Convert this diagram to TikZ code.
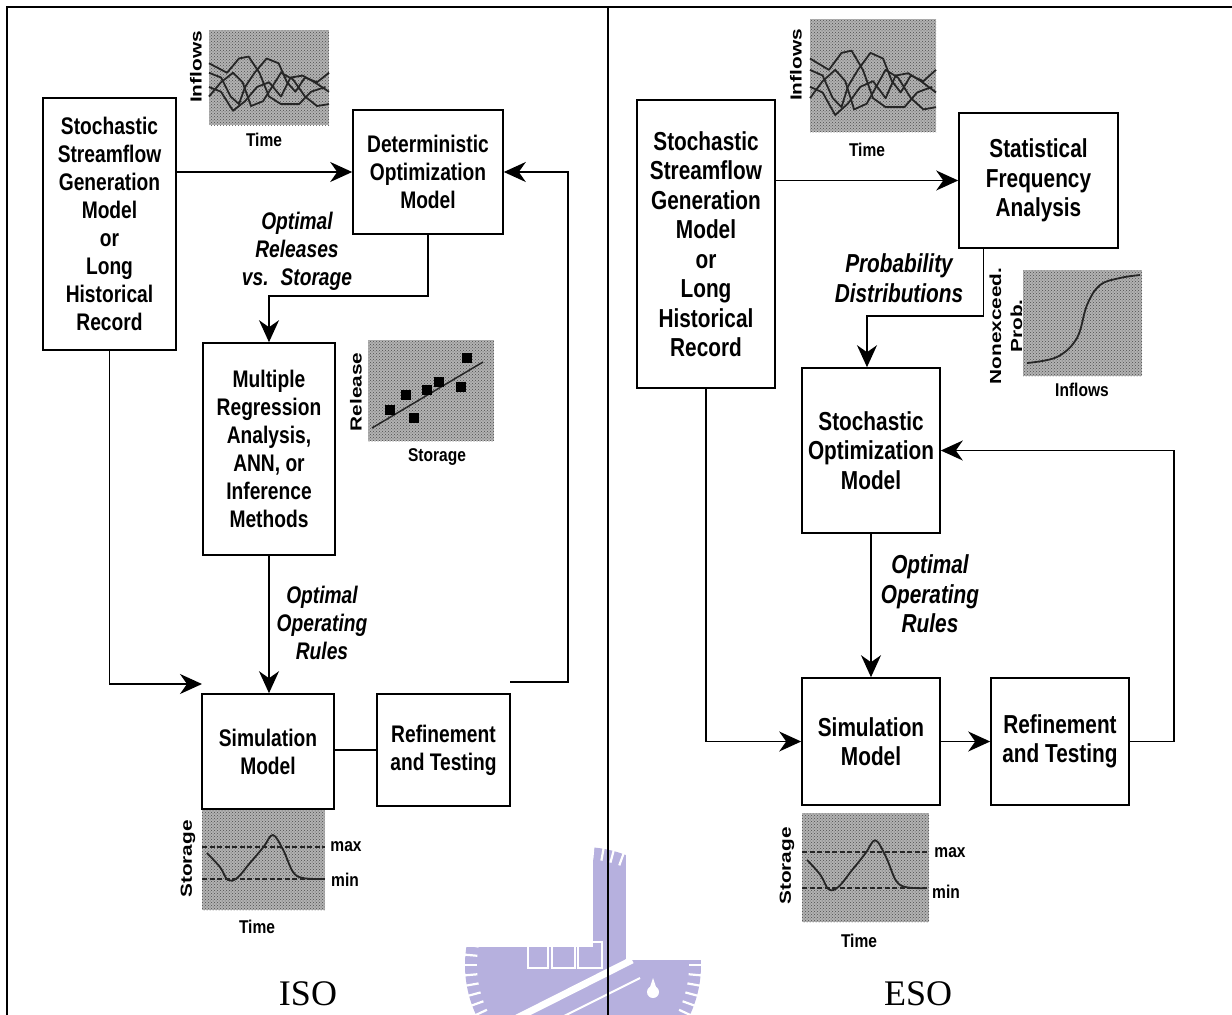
\documentclass[tikz,border=0pt]{standalone}
\usepackage{fontspec}
\setmainfont{Liberation Serif}
\newfontfamily\boxfont{Liberation Sans}[FakeStretch=0.8]
\newfontfamily\tagfont{Liberation Sans}[FakeStretch=0.84]
\newfontfamily\vtagfont{Liberation Sans}[FakeStretch=1.3]
\usetikzlibrary{arrows.meta,calc,patterns}

\definecolor{sealblue}{HTML}{B6B0DE}

\tikzset{
  blk/.style={draw, line width=1.6pt, align=center, inner sep=0pt, fill=white},
  boxL/.style={blk, font=\boxfont\bfseries\fontsize{24}{28}\selectfont},
  boxR/.style={blk, font=\boxfont\bfseries\fontsize{26}{29.5}\selectfont},
  capL/.style={align=center, inner sep=0pt, font=\boxfont\bfseries\itshape\fontsize{24}{28}\selectfont},
  capR/.style={align=center, inner sep=0pt, font=\boxfont\bfseries\itshape\fontsize{26}{29.5}\selectfont},
  tag/.style={inner sep=0pt, font=\tagfont\bfseries\fontsize{18.5}{20}\selectfont},
  vtag/.style={inner sep=0pt, rotate=90, align=center, font=\vtagfont\bfseries\fontsize{16}{21}\selectfont},
  title/.style={anchor=base, inner sep=0pt, font=\fontsize{36}{40}\selectfont},
  wire/.style={line width=1.6pt},
  arr/.style={wire, -{Stealth[length=22pt,width=20pt,inset=7pt]}},
  frame/.style={line width=2.2pt},
  curve/.style={line width=1.8pt, black!85, line join=round},
  lim/.style={line width=1.8pt, black!85, dash pattern=on 5pt off 2.5pt},
}

% stippled grey plotting area
\newcommand{\plotarea}[2]{%
  \fill[black!30] #1 rectangle #2;
  \fill[pattern=crosshatch dots, pattern color=black!70] #1 rectangle #2;
}

\begin{document}
\begin{tikzpicture}[x=1pt,y=-1pt]
\useasboundingbox (0,0) rectangle (1232,1015);

% faint university seal in the background
\begin{scope}
  \fill[sealblue] (583,965) circle[radius=118];
  \foreach \a in {0,5,...,355}
    \draw[white, line width=2.2pt] ($(583,965)+(\a:106pt)$) -- ($(583,965)+(\a:120pt)$);
  \draw[white, line width=7pt] (517,1018) -- (632,960);
  \draw[white, line width=2pt] (560,1018) -- (640,978);
  \draw[white, line width=1.6pt] (528,942) rectangle (548,968);
  \draw[white, line width=1.6pt] (552,942) rectangle (575,968);
  \draw[white, line width=1.6pt] (578,942) rectangle (602,968);
  \fill[white] (653,992) circle[radius=6];
  \fill[white] (653,978) -- (649,990) -- (657,990) -- cycle;
  % areas of the page that sit over the seal
  \fill[white] (7,7) rectangle (593,947);
  \fill[white] (626,7) rectangle (1232,960);
\end{scope}

% table rules
\draw[frame] (7,1015) -- (7,7) -- (1232,7);
\draw[line width=2pt] (608,7) -- (608,1015);

% ================= left panel: ISO =================
\node[boxL, minimum width=133, minimum height=252] (ssgL) at (109.5,224)
  {Stochastic\\Streamflow\\Generation\\Model\\or\\Long\\Historical\\Record};
\node[boxL, minimum width=150, minimum height=124] (detL) at (428,172)
  {Deterministic\\Optimization\\Model};
\node[boxL, minimum width=132, minimum height=212] (mraL) at (269,449)
  {Multiple\\Regression\\Analysis,\\ANN, or\\Inference\\Methods};
\node[boxL, minimum width=132, minimum height=115] (simL) at (268,751.5)
  {Simulation\\Model};
\node[boxL, minimum width=133, minimum height=112] (refL) at (443.5,750)
  {Refinement\\and Testing};

\node[capL] (orsL) at (297,251) {Optimal\\Releases\\vs.\enspace Storage};
\node[capL] (oorL) at (322,623) {Optimal\\Operating\\Rules};

\coordinate (fbL) at (510,682);
\coordinate (fbcL) at (568,682);
\coordinate (inL) at (202,684);

\draw[arr] (ssgL.east |- detL.west) -- (detL.west);
\draw[arr] (fbL) -- (fbcL) |- (detL.east);
\draw[arr] (detL.south) -- ++(0,61) -| (mraL.north);
\draw[arr] (mraL.south) -- (mraL.south |- simL.north);
\draw[arr] (ssgL.south) |- (inL);
\draw[wire] (simL.east |- refL.west) -- (refL.west);

% inflow traces
\plotarea{(209,30)}{(329,125)}
\begin{scope}[shift={(209pt,-30pt)}, x=120pt, y=-95pt]
  \draw[curve] (0,.35) -- (.15,.45) -- (.25,.3) -- (.33,.28) -- (.42,.45) -- (.5,.7) -- (.6,.78) -- (.75,.78) -- (.85,.65) -- (.97,.6);
  \draw[curve] (0,.45) -- (.1,.5) -- (.18,.7) -- (.25,.78) -- (.3,.6) -- (.38,.45) -- (.48,.3) -- (.58,.35) -- (.65,.55) -- (.72,.65) -- (.8,.5) -- (.9,.55) -- (1,.45);
  \draw[curve] (0,.7) -- (.1,.55) -- (.2,.45) -- (.28,.55) -- (.35,.8) -- (.45,.75) -- (.55,.55) -- (.6,.45) -- (.7,.52) -- (.8,.7) -- (.9,.8) -- (1,.78);
  \draw[curve] (0,.6) -- (.1,.65) -- (.2,.85) -- (.3,.75) -- (.4,.6) -- (.5,.55) -- (.6,.7) -- (.68,.5) -- (.78,.48) -- (.88,.55) -- (1,.65);
\end{scope}
\node[vtag] (ifL) at (196,67) {Inflows};
\node[tag] (tmL) at (264,140) {Time};

% release versus storage scatter
\plotarea{(368,340)}{(494,441)}
\draw[line width=1.5pt, black!85] (372,428) -- (483,362);
\foreach \p in {(390,410),(406,395),(414,418),(427,390),(439,382),(461,387),(467,358)}
  \fill[black] \p ++(-5,-5) rectangle ++(10,10);
\node[vtag] (rlL) at (356,392) {Release};
\node[tag] (stL) at (437,457) {Storage};

% storage trajectory
\plotarea{(202,810)}{(325,910)}
\begin{scope}[shift={(202pt,-810pt)}, x=123pt, y=-100pt]
  \draw[lim] (0,.37) -- (1,.37);
  \draw[lim] (0,.69) -- (1,.69);
  \draw[curve] plot[smooth, tension=0.6] coordinates
    {(.04,.43) (.146,.57) (.21,.70) (.285,.68) (.39,.53) (.5,.37) (.577,.25) (.66,.40) (.74,.62) (.82,.68) (.975,.69)};
\end{scope}
\node[vtag] (sgL) at (188,859) {Storage};
\node[tag] (mxL) at (346,847) {max};
\node[tag] (mnL) at (345,880) {min};
\node[tag] (tsL) at (257,927) {Time};

\node[title] (iso) at (308,1005) {ISO};

% ================= right panel: ESO =================
\node[boxR, minimum width=138, minimum height=288] (ssgR) at (706,244)
  {Stochastic\\Streamflow\\Generation\\Model\\or\\Long\\Historical\\Record};
\node[boxR, minimum width=159, minimum height=135] (sfaR) at (1038.5,180.5)
  {Statistical\\Frequency\\Analysis};
\node[boxR, minimum width=138, minimum height=165] (soR) at (871,450.5)
  {Stochastic\\Optimization\\Model};
\node[boxR, minimum width=138, minimum height=127] (simR) at (871,741.5)
  {Simulation\\Model};
\node[boxR, minimum width=138, minimum height=127] (refR) at (1060,741.5)
  {Refinement\\and Testing};

\node[capR] (pdR) at (899,278) {Probability\\Distributions};
\node[capR] (oorR) at (930,594) {Optimal\\Operating\\Rules};

\draw[arr] (ssgR.east |- sfaR.west) -- (sfaR.west);
\draw[arr] ([xshift=-55pt]sfaR.south) -- ++(0,67) -| ([xshift=-4pt]soR.north);
\draw[arr] (refR.east) -- ++(44,0) |- (soR.east);
\draw[arr] (soR.south) -- (simR.north);
\draw[arr] (ssgR.south) |- (simR.west);
\draw[arr] (simR.east) -- (refR.west);

% inflow traces
\plotarea{(810,19)}{(936,132)}
\begin{scope}[shift={(810pt,-19pt)}, x=126pt, y=-113pt]
  \draw[curve] (0,.35) -- (.15,.45) -- (.25,.3) -- (.33,.28) -- (.42,.45) -- (.5,.7) -- (.6,.78) -- (.75,.78) -- (.85,.65) -- (.97,.6);
  \draw[curve] (0,.45) -- (.1,.5) -- (.18,.7) -- (.25,.78) -- (.3,.6) -- (.38,.45) -- (.48,.3) -- (.58,.35) -- (.65,.55) -- (.72,.65) -- (.8,.5) -- (.9,.55) -- (1,.45);
  \draw[curve] (0,.7) -- (.1,.55) -- (.2,.45) -- (.28,.55) -- (.35,.8) -- (.45,.75) -- (.55,.55) -- (.6,.45) -- (.7,.52) -- (.8,.7) -- (.9,.8) -- (1,.78);
  \draw[curve] (0,.6) -- (.1,.65) -- (.2,.85) -- (.3,.75) -- (.4,.6) -- (.5,.55) -- (.6,.7) -- (.68,.5) -- (.78,.48) -- (.88,.55) -- (1,.65);
\end{scope}
\node[vtag] (ifR) at (796,65) {Inflows};
\node[tag] (tmR) at (867,150) {Time};

% non-exceedance probability curve
\plotarea{(1023,270)}{(1142,376)}
\draw[curve] plot[smooth, tension=0.6] coordinates
  {(1027,363) (1057,357) (1077,338) (1087,305) (1100,285) (1120,278) (1140,275)};
\node[vtag] (neR) at (1006,326) {Nonexceed.\\Prob.};
\node[tag] (ifR2) at (1082,390) {Inflows};

% storage trajectory
\plotarea{(802,813)}{(929,922)}
\begin{scope}[shift={(802pt,-813pt)}, x=127pt, y=-109pt]
  \draw[lim] (0,.36) -- (1,.36);
  \draw[lim] (0,.69) -- (1,.69);
  \draw[curve] plot[smooth, tension=0.6] coordinates
    {(.04,.43) (.146,.57) (.21,.70) (.285,.68) (.39,.53) (.5,.37) (.577,.25) (.66,.40) (.74,.62) (.82,.68) (.975,.69)};
\end{scope}
\node[vtag] (sgR) at (787,866) {Storage};
\node[tag] (mxR) at (950,853) {max};
\node[tag] (mnR) at (946,892) {min};
\node[tag] (tsR) at (859,941) {Time};

\node[title] (eso) at (918,1005) {ESO};
\end{tikzpicture}
\end{document}
